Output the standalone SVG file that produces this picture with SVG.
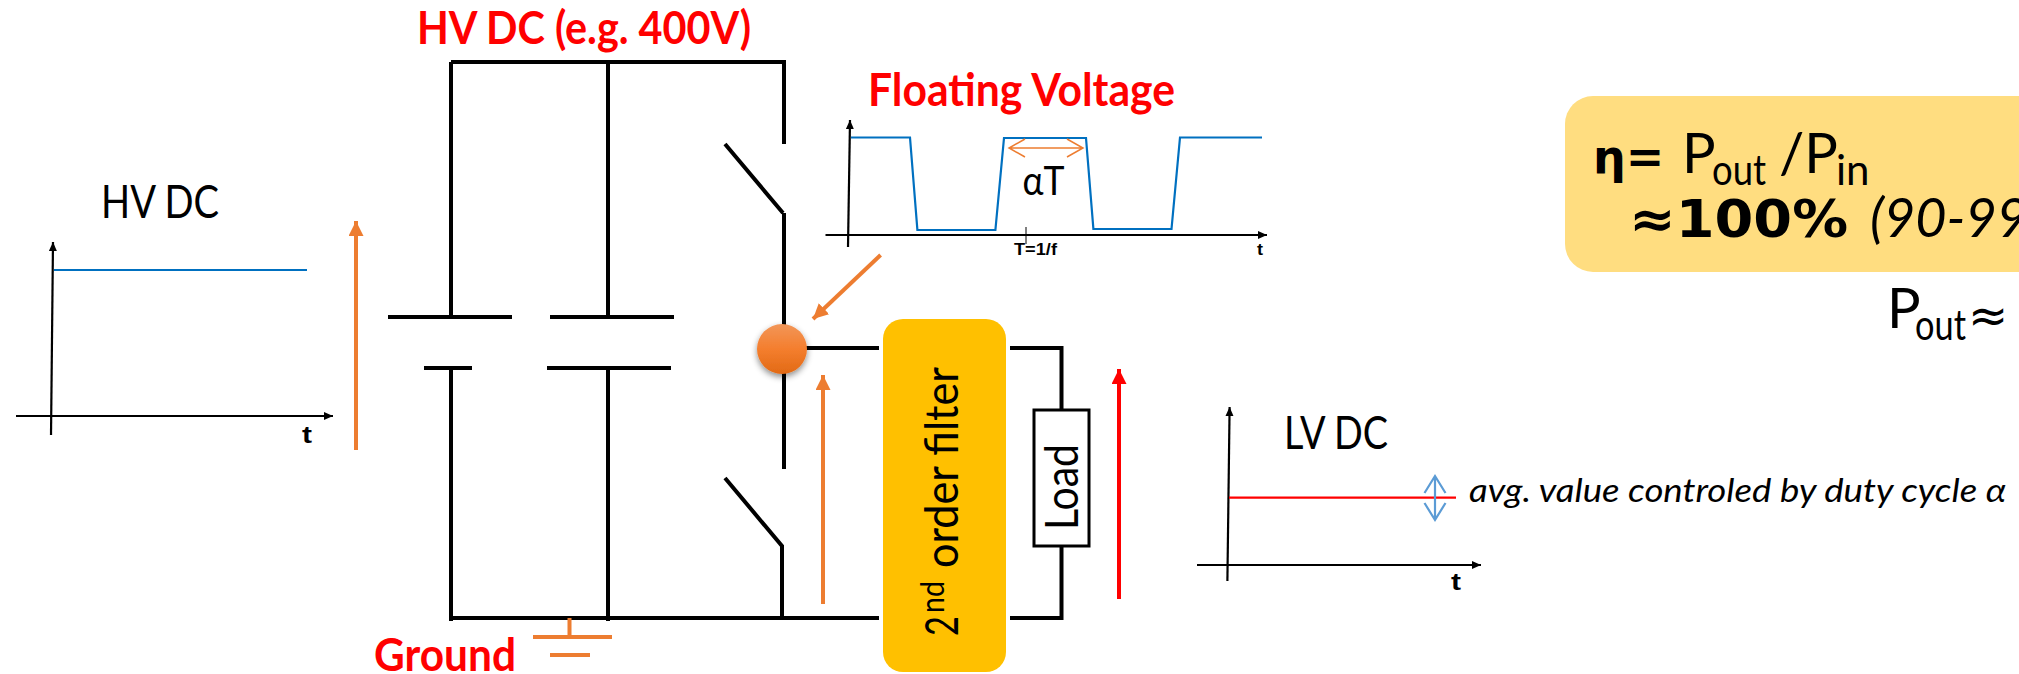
<svg xmlns="http://www.w3.org/2000/svg" width="2019" height="674" viewBox="0 0 2019 674">
<style>
text{font-family:Lato,"Noto Sans",sans-serif;fill:#000}
.w{fill:none;stroke:#000;stroke-width:4;stroke-linecap:butt;stroke-linejoin:miter}
.ax{fill:none;stroke:#000;stroke-width:2.2}
.red{fill:#f00;font-weight:700;font-size:45px}
.sig{fill:none;stroke:#0070c0;stroke-width:2.2;stroke-linejoin:miter}
.or{stroke:#ed7d31;stroke-width:4;fill:none}
.bl{font-size:46px}
.tb{font-weight:700;font-size:24px;font-family:"Liberation Sans",sans-serif}
.dj{font-family:"DejaVu Sans",sans-serif}
</style>
<defs>
<marker id="ah" markerUnits="userSpaceOnUse" markerWidth="10" markerHeight="10" refX="9" refY="4" orient="auto"><path d="M0 0L9 4L0 8z" fill="#000"/></marker>
<marker id="ao" markerUnits="userSpaceOnUse" markerWidth="16" markerHeight="16" refX="15" refY="7.5" orient="auto"><path d="M0 0L15 7.5L0 15z" fill="#ed7d31"/></marker>
<marker id="ar" markerUnits="userSpaceOnUse" markerWidth="16" markerHeight="16" refX="15" refY="7.5" orient="auto"><path d="M0 0L15 7.5L0 15z" fill="#f00"/></marker>
<linearGradient id="dot" x1="0" y1="0" x2="0" y2="1"><stop offset="0" stop-color="#f29658"/><stop offset=".5" stop-color="#f47e2e"/><stop offset="1" stop-color="#e26a15"/></linearGradient>
<filter id="sh" x="-30%" y="-30%" width="160%" height="170%"><feDropShadow dx="0" dy="3" stdDeviation="3" flood-color="#000" flood-opacity=".45"/></filter>
</defs>

<g id="connectors">
<path class="w" d="M451 62H784V144M451 62V317M608 62V317M451 368V621M608 368V621"/>
<path class="w" d="M725 144L783 213M784 213V469M725 478L782 546V618"/>
<path class="w" d="M451 618H879M782 348H879M1010 348H1061.5V410M1061.5 546V618H1010"/>
<path class="w" d="M388 317H512M424 368H472M550 317H674M547 368H671"/>
<path class="or" d="M569.5 618V637M533 637H612M550 655H590"/>
<path class="or" d="M356 450V221" marker-end="url(#ao)"/>
<path class="or" d="M823 604V375" marker-end="url(#ao)"/>
<path class="or" d="M880.6 255L813 319" marker-end="url(#ao)"/>
<path d="M1119 599V369" fill="none" stroke="#f00" stroke-width="4" marker-end="url(#ar)"/>
</g>

<g id="graph-hv">
<path class="ax" d="M51 435L53 242" marker-end="url(#ah)"/>
<path class="ax" d="M16 416H333" marker-end="url(#ah)"/>
<path class="sig" d="M54 270H307"/>
<text class="bl" x="101" y="218" textLength="118" lengthAdjust="spacingAndGlyphs">HV DC</text>
<text class="tb" x="302" y="443" textLength="10" lengthAdjust="spacingAndGlyphs">t</text>
</g>

<g id="label-hv"><text class="red" x="417" y="44" textLength="334" lengthAdjust="spacingAndGlyphs">HV DC (e.g. 400V)</text></g>
<g id="label-ground"><text class="red" x="374" y="671" textLength="142" lengthAdjust="spacingAndGlyphs">Ground</text></g>
<g id="label-floating"><text class="red" x="868" y="106" textLength="307" lengthAdjust="spacingAndGlyphs">Floating Voltage</text></g>

<g id="graph-floating">
<path class="ax" d="M848 247L850 120" marker-end="url(#ah)"/>
<path class="ax" d="M825.5 235H1267" marker-end="url(#ah)"/>
<path d="M1026 227V244" fill="none" stroke="#000" stroke-width="1"/>
<path class="sig" d="M851 137.5H910L917.4 230H995.4L1004 138H1086L1093.4 229H1171.5L1180 137.5H1262"/>
<path d="M1025 139L1009 148L1025 157M1009 148H1083M1067 139L1083 148L1067 157" fill="none" stroke="#ed7d31" stroke-width="1.5"/>
<text x="1022.6" y="195" font-size="41" textLength="42" lengthAdjust="spacingAndGlyphs">αT</text>
<text x="1014" y="255" font-size="16" font-weight="700" style="font-family:'Liberation Sans',sans-serif" textLength="43" lengthAdjust="spacingAndGlyphs">T=1/f</text>
<text x="1257" y="255" font-size="16" font-weight="700" style="font-family:'Liberation Sans',sans-serif" textLength="6" lengthAdjust="spacingAndGlyphs">t</text>
</g>

<g id="node-switch"><circle cx="782" cy="349" r="25" fill="url(#dot)" filter="url(#sh)"/></g>

<g id="filter">
<rect x="883" y="319" width="123" height="353" rx="20" fill="#ffc000"/>
<g transform="translate(958 636) rotate(-90)">
<text x="0" y="0" font-size="47" textLength="20" lengthAdjust="spacingAndGlyphs">2</text>
<text x="23" y="-14" font-size="33" textLength="32" lengthAdjust="spacingAndGlyphs">nd</text>
<text x="68" y="0" font-size="47" textLength="201" lengthAdjust="spacingAndGlyphs">order filter</text>
</g>
</g>

<g id="load">
<rect x="1034" y="410" width="55" height="136" fill="#fff" stroke="#000" stroke-width="3"/>
<text transform="translate(1078 530) rotate(-90)" font-size="47" textLength="86" lengthAdjust="spacingAndGlyphs">Load</text>
</g>

<g id="graph-lv">
<path class="ax" d="M1227.4 581L1229.6 407" marker-end="url(#ah)"/>
<path class="ax" d="M1197 565H1481" marker-end="url(#ah)"/>
<path d="M1229 497.7H1456" fill="none" stroke="#f00" stroke-width="2.2"/>
<text class="bl" x="1284" y="449" textLength="104" lengthAdjust="spacingAndGlyphs">LV DC</text>
<text class="tb" x="1451" y="590" textLength="10" lengthAdjust="spacingAndGlyphs">t</text>
<path d="M1435 477V520M1424.5 493L1435 476L1445.5 493M1424.5 503L1435 520L1445.5 503" fill="none" stroke="#5b9bd5" stroke-width="2.2"/>
<text x="1469" y="501.5" font-size="33" font-style="italic" textLength="537" lengthAdjust="spacingAndGlyphs">avg. value controled by duty cycle α</text>
</g>

<g id="efficiency">
<rect x="1565" y="96" width="520" height="176" rx="28" fill="#ffdd80"/>
<text font-size="56"><tspan x="1593" y="173" font-weight="700" class="dj" font-size="46">η=</tspan><tspan x="1682" y="173">P</tspan><tspan x="1712" y="185" font-size="42" textLength="54" lengthAdjust="spacingAndGlyphs">out</tspan><tspan x="1779" y="173">/P</tspan><tspan x="1836" y="185" font-size="42">in</tspan></text>
<text x="1629" y="237" font-size="52" font-weight="700" class="dj" textLength="219" lengthAdjust="spacingAndGlyphs">≈100%</text>
<text x="1870" y="237" font-size="54" font-style="italic">(90-99</text>
</g>

<g id="pout">
<text font-size="56"><tspan x="1887" y="328">P</tspan><tspan x="1915" y="340" font-size="42" textLength="51" lengthAdjust="spacingAndGlyphs">out</tspan></text>
<text class="dj" x="1968" y="332" font-size="48">≈</text>
</g>
</svg>
